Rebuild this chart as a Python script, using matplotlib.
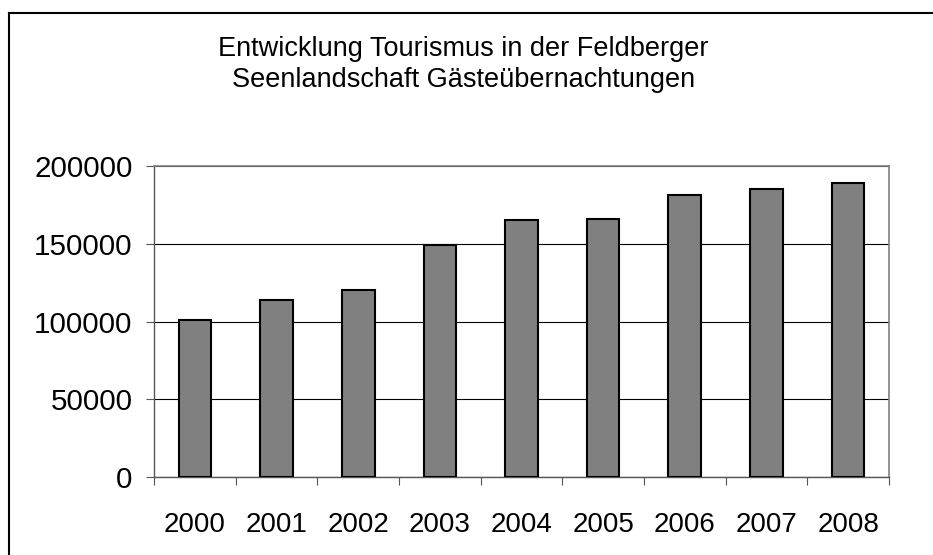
import matplotlib.pyplot as plt
from matplotlib.lines import Line2D

plt.rcParams['font.family'] = ['Liberation Sans', 'DejaVu Sans']

# data
years = ['2000', '2001', '2002', '2003', '2004', '2005', '2006', '2007', '2008']
guests = [101000, 114000, 120000, 149400, 165100, 166000, 181100, 185400, 189300]

fig = plt.figure(figsize=(9.33, 5.55), dpi=100)
ax = fig.add_axes([0.1651, 0.1405, 0.7877, 0.5604])

x = list(range(len(years)))
ax.bar(x, guests, width=0.4, color='#808080', edgecolor='black', linewidth=1.5, zorder=3)

ax.set_xlim(-0.5, len(years) - 0.5)
ax.set_ylim(0, 200000)
ax.set_yticks([0, 50000, 100000, 150000, 200000])
ax.set_yticklabels(['0', '50000', '100000', '150000', '200000'])
ax.yaxis.grid(True, color='black', linewidth=0.8, zorder=1)

# category labels centred on bars, tick marks between categories
ax.set_xticks(x)
ax.set_xticklabels(years)
ax.tick_params(axis='x', length=0, pad=25, labelsize=20)
ax.set_xticks([i - 0.5 for i in range(len(years) + 1)], minor=True)
ax.tick_params(axis='x', which='minor', length=6, width=0.8, color='#555555', direction='out')
ax.tick_params(axis='y', length=6, width=0.8, color='#555555', labelsize=21.3, pad=9.5)

for s in ['top', 'right']:
    ax.spines[s].set_color('#808080')
    ax.spines[s].set_linewidth(1.2)
for s in ['left', 'bottom']:
    ax.spines[s].set_color('#555555')
    ax.spines[s].set_linewidth(1)

fig.text(0.497, 0.883, 'Entwicklung Tourismus in der Feldberger\nSeenlandschaft Gästeübernachtungen',
         ha='center', va='center', fontsize=19.5, linespacing=1.25)

# chart-area border (only top and left visible)
fig.add_artist(Line2D([9 / 933, 9 / 933], [0, 1 - 13 / 555], color='black', linewidth=1.5))
fig.add_artist(Line2D([9 / 933, 1], [1 - 13 / 555, 1 - 13 / 555], color='black', linewidth=1.5))

plt.savefig('out.png', dpi=100)
